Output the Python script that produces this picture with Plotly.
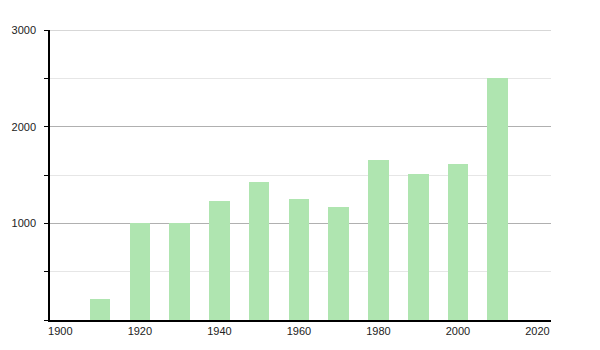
import plotly.graph_objects as go

years = [1910, 1920, 1930, 1940, 1950, 1960, 1970, 1980, 1990, 2000, 2010]
population = [218, 1008, 1008, 1236, 1423, 1251, 1174, 1651, 1513, 1617, 2508]
x_ticks = [1900, 1920, 1940, 1960, 1980, 2000, 2020]
y_ticks = [1000, 2000, 3000]
y_max = 3000

fig = go.Figure()
fig.add_trace(go.Bar(
    x=years, y=population, width=5.2,
    marker=dict(color="#afe5b0", line=dict(width=0)),
    hoverinfo="x+y",
))

fig.update_layout(
    width=600, height=350,
    margin=dict(l=50, r=49, t=30, b=30),
    paper_bgcolor="white", plot_bgcolor="white",
    showlegend=False,
    font=dict(family="Liberation Sans, Arial, sans-serif", size=11, color="#222"),
    bargap=0,
)
# top gridline (plotly skips the grid line lying on the plot edge)
fig.add_shape(type="line", xref="paper", x0=0, x1=1, yref="y", y0=y_max, y1=y_max,
              line=dict(color="#b0b0b0", width=1), layer="below")
fig.update_xaxes(
    range=[1897.4, 2023.4],
    tickvals=x_ticks, ticktext=[str(v) for v in x_ticks],
    showgrid=False, zeroline=False,
    showline=True, linecolor="black", linewidth=1.5,
    ticks="", tickfont=dict(size=11),
)
fig.update_yaxes(
    range=[0, y_max],
    tickvals=y_ticks, ticktext=[str(v) for v in y_ticks],
    showgrid=True, gridcolor="#b0b0b0", gridwidth=1,
    zeroline=False,
    showline=True, linecolor="black", linewidth=1.5,
    ticks="outside", ticklen=4, tickcolor="black", tickwidth=1,
    ticklabelstandoff=6,
    minor=dict(dtick=500, tick0=0, showgrid=True, gridcolor="#e6e6e6", gridwidth=1,
               ticks="outside", ticklen=4, tickcolor="black"),
)

fig.write_html("out.html")
